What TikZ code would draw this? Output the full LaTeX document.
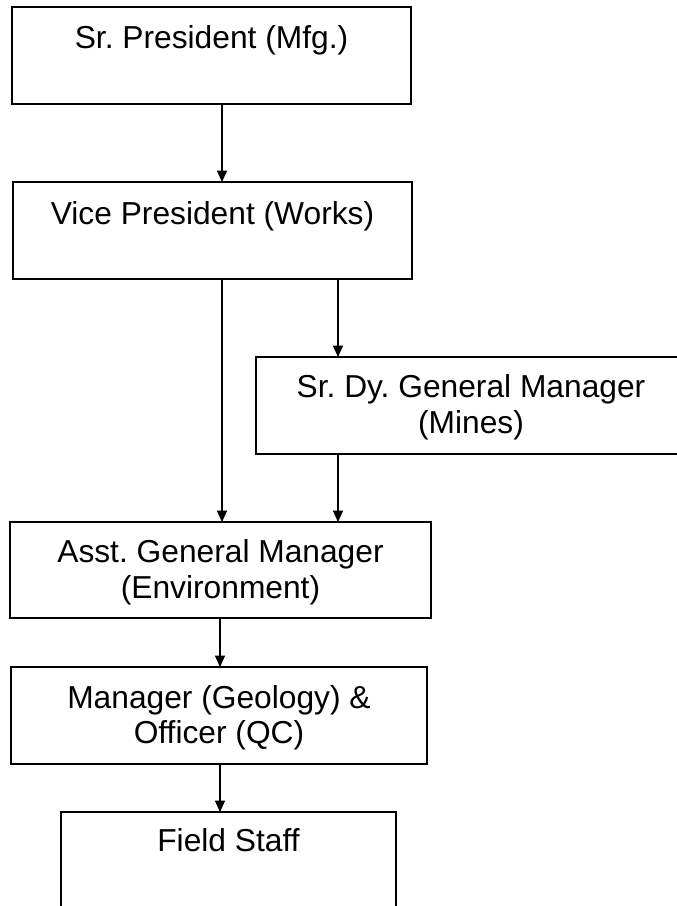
\documentclass[tikz,border=0pt]{standalone}
\usepackage{fontspec}
\setmainfont{Liberation Sans}
\usetikzlibrary{arrows.meta,calc}
\frenchspacing
\begin{document}
\begin{tikzpicture}[x=0.75pt,y=-0.75pt,
  box/.style={draw=black,line width=1.2pt,rectangle,inner sep=0pt,outer sep=0pt,minimum height=72.75pt},
  lbl/.style={font=\fontsize{23.8pt}{27pt}\selectfont,anchor=base,inner sep=0pt},
  conn/.style={draw=black,line width=0.9pt,-{Triangle[length=8.5pt,width=7.5pt]}}]
\useasboundingbox (0,0) rectangle (677,906);
% boxes
\node[box,minimum width=299.25pt] (b1) at (211.5,55.5) {};
\node[box,minimum width=299.25pt] (b2) at (212.5,230.5) {};
\node[box,minimum width=322.5pt] (b3) at (471,405.5) {};
\node[box,minimum width=315.75pt,minimum height=72pt] (b4) at (220.5,570) {};
\node[box,minimum width=312pt] (b5) at (219,715.5) {};
\node[box,minimum width=251.25pt] (b6) at (228.5,860.5) {};
% labels
\node[lbl] (t1) at ($(b1.north)+(0,42)$) {Sr. President (Mfg.)};
\node[lbl] (t2) at ($(b2.north)+(0,42)$) {Vice President (Works)};
\node[lbl] (t3a) at ($(b3.north)+(0,40)$) {Sr. Dy. General Manager};
\node[lbl] (t3b) at ($(b3.north)+(0,76)$) {(Mines)};
\node[lbl] (t4a) at ($(b4.north)+(0,40)$) {Asst. General Manager};
\node[lbl] (t4b) at ($(b4.north)+(0,76)$) {(Environment)};
\node[lbl] (t5a) at ($(b5.north)+(0,41)$) {Manager (Geology) \&};
\node[lbl] (t5b) at ($(b5.north)+(0,76)$) {Officer (QC)};
\node[lbl] (t6) at ($(b6.north)+(0,39)$) {Field Staff};
% connector columns
\coordinate (xa) at (222,0);
\coordinate (xb) at (338,0);
\coordinate (xc) at (220,0);
% connectors
\draw[conn] (b1.south -| xa) -- (b2.north -| xa);
\draw[conn] (b2.south -| xa) -- (b4.north -| xa);
\draw[conn] (b2.south -| xb) -- (b3.north -| xb);
\draw[conn] (b3.south -| xb) -- (b4.north -| xb);
\draw[conn] (b4.south -| xc) -- (b5.north -| xc);
\draw[conn] (b5.south -| xc) -- (b6.north -| xc);
\end{tikzpicture}
\end{document}
